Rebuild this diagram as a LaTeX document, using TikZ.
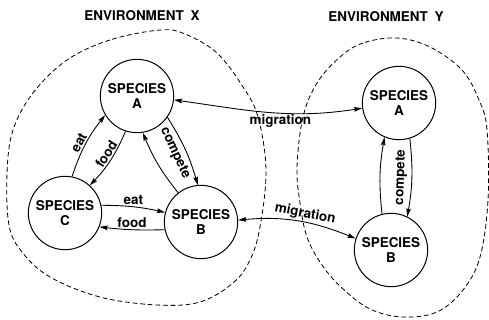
\documentclass[tikz,border=0pt]{standalone}
\usepackage{fontspec}
\setmainfont{TeX Gyre Heros}
\usetikzlibrary{arrows.meta}

\begin{document}
\begin{tikzpicture}[
		x=0.03cm, y=-0.03cm,
		>={Stealth[length=7pt, width=4pt, inset=1pt]},
		species/.style={circle, draw, line width=0.85pt, minimum size=2.2cm, inner sep=0pt, align=center, font=\bfseries\fontsize{11.5}{12.5}\selectfont},
		link/.style={line width=0.75pt},
		lbl/.style={font=\bfseries\fontsize{11.5}{12}\selectfont, inner sep=1.2pt},
		envlabel/.style={font=\bfseries\fontsize{11.5}{12}\selectfont},
		boundary/.style={line width=0.7pt, dash pattern=on 4pt off 2.5pt}
	]
		\useasboundingbox (0,0) rectangle (489,320);
		
		% Environment titles
		\node[envlabel] (envx) at (142,16) {ENVIRONMENT\enspace X};
		\node[envlabel] (envy) at (386,17) {ENVIRONMENT\enspace Y};
		
		% Boundaries
		\draw[boundary] plot[smooth cycle, tension=0.6] coordinates {(160,30) (110,40) (67,60) (33,93) (13,130) (7,173) (9,225) (22,252) (50,277) (100,297) (157,305) (200,302) (233,283) (250,260) (260,227) (266,170) (258,117) (243,87) (217,53) (185,34)};
		\draw[boundary] plot[smooth cycle, tension=0.6] coordinates {(397,38) (363,43) (340,57) (317,83) (303,117) (297,167) (300,203) (307,237) (322,265) (342,288) (370,309) (403,317) (437,312) (463,290) (480,257) (488,200) (487,130) (479,100) (462,70) (430,47)};
		
		% Environment X
		\node[species] (ax) at (137,96) {SPECIES\\A};
		\node[species] (cx) at (65,213) {SPECIES\\C};
		\node[species] (bx) at (201,222) {SPECIES\\B};
		
		% Environment Y
		\node[species] (ay) at (399,103) {SPECIES\\A};
		\node[species] (by) at (391,250) {SPECIES\\B};
		
		% Edges in X
		\draw[link, ->] (cx.79) to[bend left=10] node[lbl, sloped, above, pos=0.47] {eat} (ax.211);
		\draw[link, ->] (ax.252) to[bend left=10] node[lbl, sloped, above, pos=0.45] {food} (cx.48);
		\draw[link, ->] (bx.128) to[bend left=8] (ax.279);
		\draw[link, ->] (ax.325) to[bend left=8] node[lbl, sloped, below=2.5pt, pos=0.48] {compete} (bx.95);
		\draw[link, ->] (cx.12) to[bend left=6] node[lbl, above] {eat} (bx.165);
		\draw[link, ->] (bx.192) to[bend left=4] node[lbl, above] {food} (cx.338);
		
		% Migration
		\draw[link, <->] (ax.354) to[out=-8, in=189] node[lbl, below, pos=0.57] {migration} (ay.188);
		\draw[link, <->] (bx.3) to[out=5, in=158] node[lbl, sloped, above, pos=0.55] {migration} (by.162);
		
		% Edges in Y
		\draw[link, ->] (by.104) to[bend left=8] (ay.247);
		\draw[link, ->] (ay.287) to[bend left=8] node[lbl, sloped, above=2.5pt] {compete} (by.64);
	\end{tikzpicture}
\end{document}
